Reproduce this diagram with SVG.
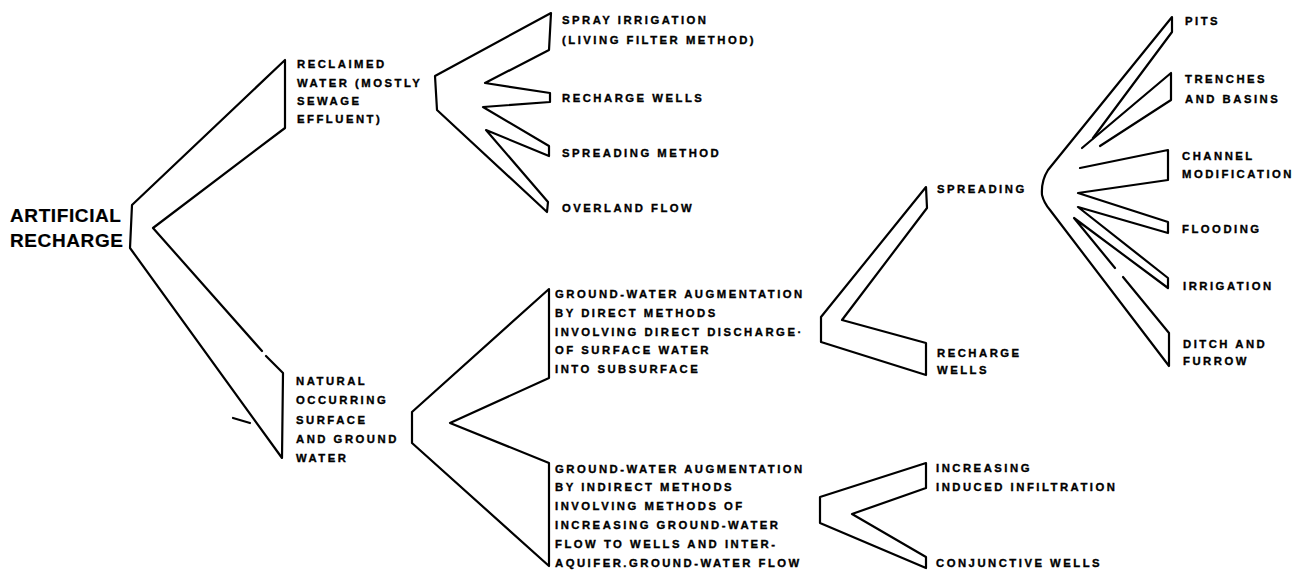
<svg xmlns="http://www.w3.org/2000/svg" width="1298" height="573" viewBox="0 0 1298 573">
<style>
.t{font-family:"Liberation Sans",Arial,sans-serif;font-weight:bold;font-size:11.3px;letter-spacing:2.5px;fill:#000;stroke:#000;stroke-width:0.35}
.big{font-size:19px;letter-spacing:0.6px;stroke-width:0.2}
.c{fill:none;stroke:#000;stroke-width:2.2;stroke-linejoin:round;stroke-linecap:round}
</style>
<rect width="1298" height="573" fill="#fff"/>
<g id="connectors" class="c">
<path d="M285,60 L285,128 L153,228 L262,351 M266,356 L283,373 L282,458 L130,248 L132,205 L285,60"/>
<path d="M233,418 L250,423"/>
<path d="M551,13 L435,76 L437,110 L547,212 L548,202 L486,130 L549,156 L549,146 L483,107 L550,102 L550,93 L485,83 L549,50 Z"/>
<path d="M549,289 L412,412 L412,443 L549,566 L549,463 L450,423 L549,378 Z"/>
<path d="M926,187 L821,317 L821,342 L926,375 L926,343 L842,320 L927,208 Z"/>
<path d="M926,463 L820,497 L820,523 L926,568 L926,557 L852,514 L926,488 Z"/>
<path d="M1093,138 L1172,32 L1172,17 L1048,170 Q1041,181 1042,195 Q1044,203 1050,210 L1169,366 L1169,333 L1123,277"/>
<path d="M1115,268 L1074,218 L1168,288 L1168,278 L1078,207 L1168,233 L1168,222 L1078,193 L1168,180 L1168,150 L1080,168"/>
<path d="M1082,148 L1171,73 L1171,100 L1100,146"/>
</g>
<g id="root"><text class="t big" x="10" y="222">ARTIFICIAL</text><text class="t big" x="10" y="247">RECHARGE</text></g>
<g id="reclaimed"><text class="t" x="297" y="68">RECLAIMED</text><text class="t" x="297" y="87">WATER (MOSTLY</text><text class="t" x="297" y="105">SEWAGE</text><text class="t" x="297" y="123">EFFLUENT)</text></g>
<g id="natural"><text class="t" x="296" y="385">NATURAL</text><text class="t" x="296" y="404">OCCURRING</text><text class="t" x="296" y="424">SURFACE</text><text class="t" x="296" y="443">AND GROUND</text><text class="t" x="296" y="462">WATER</text></g>
<g id="spray"><text class="t" x="562" y="24">SPRAY IRRIGATION</text><text class="t" x="562" y="44">(LIVING FILTER METHOD)</text></g>
<g id="recharge-wells-a"><text class="t" x="562" y="102">RECHARGE WELLS</text></g>
<g id="spreading-method"><text class="t" x="562" y="157">SPREADING METHOD</text></g>
<g id="overland-flow"><text class="t" x="562" y="212">OVERLAND FLOW</text></g>
<g id="direct"><text class="t" x="555" y="298">GROUND-WATER AUGMENTATION</text><text class="t" x="555" y="317">BY DIRECT METHODS</text><text class="t" x="555" y="336">INVOLVING DIRECT DISCHARGE·</text><text class="t" x="555" y="354">OF SURFACE WATER</text><text class="t" x="555" y="373">INTO SUBSURFACE</text></g>
<g id="indirect"><text class="t" x="555" y="473">GROUND-WATER AUGMENTATION</text><text class="t" x="555" y="491">BY INDIRECT METHODS</text><text class="t" x="555" y="510">INVOLVING METHODS OF</text><text class="t" x="555" y="529">INCREASING GROUND-WATER</text><text class="t" x="555" y="548">FLOW TO WELLS AND INTER-</text><text class="t" x="555" y="567">AQUIFER.GROUND-WATER FLOW</text></g>
<g id="spreading"><text class="t" x="937" y="193">SPREADING</text></g>
<g id="recharge-wells-b"><text class="t" x="937" y="357">RECHARGE</text><text class="t" x="937" y="374">WELLS</text></g>
<g id="increasing"><text class="t" x="936" y="472">INCREASING</text><text class="t" x="936" y="491">INDUCED INFILTRATION</text></g>
<g id="conjunctive"><text class="t" x="936" y="567">CONJUNCTIVE WELLS</text></g>
<g id="pits"><text class="t" x="1185" y="25">PITS</text></g>
<g id="trenches"><text class="t" x="1185" y="83">TRENCHES</text><text class="t" x="1185" y="103">AND BASINS</text></g>
<g id="channel"><text class="t" x="1182" y="160">CHANNEL</text><text class="t" x="1182" y="178">MODIFICATION</text></g>
<g id="flooding"><text class="t" x="1182" y="233">FLOODING</text></g>
<g id="irrigation"><text class="t" x="1183" y="290">IRRIGATION</text></g>
<g id="ditch"><text class="t" x="1183" y="348">DITCH AND</text><text class="t" x="1183" y="365">FURROW</text></g>
</svg>
